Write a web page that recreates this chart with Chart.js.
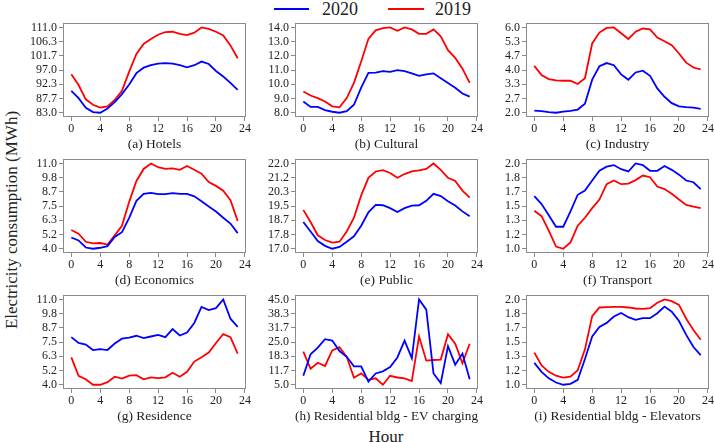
<!DOCTYPE html>
<html lang="en">
<head>
<meta charset="UTF-8">
<title>Electricity consumption by hour</title>
<script src="https://cdn.jsdelivr.net/npm/chart.js"></script>
<style>
  body { margin: 0; background: #fff; }
  #wrap { position: relative; width: 714px; height: 442px; overflow: hidden; font-family: "Liberation Serif", serif; color: #222; }
  #wrap canvas { position: absolute; }
  .key { position: absolute; height: 2px; top: 8px; }
  .keytext { position: absolute; top: -1px; font-size: 18px; line-height: 20px; }
  #ylab { position: absolute; left: 12px; top: 220px; white-space: nowrap; font-size: 17px;
          transform: translate(-50%, -50%) rotate(-90deg); }
  #xlab { position: absolute; left: 386px; top: 437px; font-size: 17px; transform: translate(-50%, -50%); }
</style>
</head>
<body>
<div id="wrap">
  <div class="key" style="left:274px;width:35px;background:#0000ff"></div>
  <div class="keytext" style="left:322px">2020</div>
  <div class="key" style="left:388px;width:36px;background:#ff0000"></div>
  <div class="keytext" style="left:435px">2019</div>
  <div id="ylab">Electricity consumption (MWh)</div>
  <div id="xlab">Hour</div>
</div>
<script>
const hours = [0, 1, 2, 3, 4, 5, 6, 7, 8, 9, 10, 11, 12, 13, 14, 15, 16, 17, 18, 19, 20, 21, 22, 23];
const xTicks = [0, 4, 8, 12, 16, 20, 24];

const panelTitles = ['(a) Hotels', '(b) Cultural', '(c) Industry',
                     '(d) Economics', '(e) Public', '(f) Transport',
                     '(g) Residence', '(h) Residential bldg - EV charging', '(i) Residential bldg - Elevators'];
// first and last tick of each panel (7 even ticks between)
const yLow  = [83, 8, 2, 4, 17, 1, 4, 5, 1];
const yHigh = [111, 14, 6, 11, 22, 2, 11, 45, 2];

const hotels2020 = [90.2, 87.8, 84.6, 83.2, 83.0, 84.4, 86.5, 89.1, 92.3, 96.0, 97.8, 98.6,
                    99.1, 99.3, 99.1, 98.6, 97.9, 98.6, 99.8, 99.0, 96.7, 94.9, 92.8, 90.5];
const hotels2019 = [95.6, 92.1, 87.4, 85.6, 84.7, 85.1, 87.2, 90.2, 96.5, 102.3, 105.6, 107.2,
                    108.6, 109.5, 109.6, 108.9, 108.5, 109.3, 111.0, 110.5, 109.6, 108.4, 105.1, 100.9];
const cultural2020 = [8.79, 8.41, 8.41, 8.18, 8.07, 8.0, 8.11, 8.56, 9.76, 10.8, 10.82, 10.93,
                      10.88, 11.0, 10.93, 10.77, 10.59, 10.7, 10.77, 10.43, 10.1, 9.76, 9.35, 9.13];
const cultural2019 = [9.49, 9.21, 9.03, 8.79, 8.45, 8.38, 9.03, 10.1, 11.6, 13.2, 13.8, 13.95,
                      14.0, 13.77, 14.0, 13.86, 13.55, 13.55, 13.86, 13.37, 12.4, 11.86, 11.1, 10.1];
const industry2020 = [2.10, 2.08, 2.03, 2.0, 2.05, 2.09, 2.15, 2.42, 3.55, 4.18, 4.33, 4.23,
                      3.80, 3.55, 3.89, 3.97, 3.73, 3.14, 2.75, 2.45, 2.30, 2.26, 2.24, 2.18];
const industry2019 = [4.20, 3.77, 3.58, 3.52, 3.50, 3.50, 3.35, 3.62, 5.25, 5.76, 5.98, 6.0,
                      5.73, 5.46, 5.80, 5.95, 5.91, 5.53, 5.35, 5.17, 4.78, 4.35, 4.12, 4.03];
const economics2020 = [4.92, 4.68, 4.10, 4.0, 4.08, 4.21, 4.97, 5.36, 6.54, 7.93, 8.51, 8.59,
                       8.48, 8.48, 8.56, 8.51, 8.51, 8.30, 7.90, 7.46, 7.06, 6.54, 6.07, 5.28];
const economics2019 = [5.54, 5.23, 4.57, 4.44, 4.47, 4.34, 5.10, 5.88, 7.85, 9.56, 10.55, 11.0,
                       10.69, 10.55, 10.6, 10.48, 10.79, 10.48, 10.16, 9.48, 9.16, 8.77, 7.98, 6.28];
const public2020 = [18.57, 18.01, 17.45, 17.17, 17.0, 17.11, 17.41, 17.73, 18.35, 19.13, 19.57, 19.55,
                    19.38, 19.15, 19.38, 19.53, 19.55, 19.81, 20.22, 20.09, 19.79, 19.53, 19.19, 18.91];
const public2019 = [19.28, 18.57, 17.79, 17.51, 17.36, 17.41, 18.01, 18.82, 20.13, 21.16, 21.53, 21.61,
                    21.44, 21.16, 21.38, 21.53, 21.59, 21.68, 22.0, 21.63, 21.16, 20.97, 20.41, 20.0];
const transport2020 = [1.618, 1.524, 1.393, 1.258, 1.258, 1.438, 1.633, 1.682, 1.80, 1.914, 1.963, 1.981,
                       1.933, 1.906, 2.0, 1.981, 1.914, 1.914, 1.97, 1.925, 1.869, 1.80, 1.78, 1.70];
const transport2019 = [1.446, 1.382, 1.213, 1.026, 1.0, 1.075, 1.27, 1.363, 1.476, 1.577, 1.757, 1.80,
                       1.757, 1.764, 1.805, 1.858, 1.839, 1.73, 1.70, 1.644, 1.577, 1.513, 1.494, 1.476];
const residence2020 = [7.91, 7.43, 7.30, 6.85, 6.93, 6.85, 7.38, 7.78, 7.86, 8.02, 7.83, 7.96,
                       8.09, 7.91, 8.57, 8.04, 8.28, 9.07, 10.39, 10.13, 10.29, 11.0, 9.42, 8.75];
const residence2019 = [6.25, 4.74, 4.45, 4.0, 4.0, 4.21, 4.66, 4.50, 4.74, 4.79, 4.45, 4.61,
                       4.55, 4.61, 4.98, 4.66, 5.06, 5.90, 6.25, 6.64, 7.43, 8.15, 7.91, 6.56];
const ev2020 = [9.2, 19.3, 22.4, 26.4, 25.7, 20.8, 18.1, 13.6, 13.6, 6.5, 10.3, 11.3,
                13.3, 17.8, 25.7, 17.4, 45.0, 40.2, 10.3, 5.75, 23.1, 14.4, 19.6, 7.6];
const ev2019 = [20.5, 12.5, 15.3, 13.8, 21.1, 22.6, 18.1, 8.3, 10.3, 7.3, 8.0, 5.0,
                9.2, 8.4, 8.0, 6.7, 27.6, 16.3, 16.6, 16.8, 28.7, 24.2, 15.1, 24.2];
const elevators2020 = [1.257, 1.151, 1.075, 1.026, 1.0, 1.011, 1.057, 1.302, 1.566, 1.679, 1.725, 1.80,
                       1.842, 1.792, 1.762, 1.781, 1.781, 1.838, 1.917, 1.857, 1.747, 1.585, 1.442, 1.347];
const elevators2019 = [1.377, 1.226, 1.151, 1.106, 1.083, 1.094, 1.17, 1.415, 1.804, 1.906, 1.909, 1.913,
                       1.913, 1.906, 1.894, 1.89, 1.898, 1.962, 2.0, 1.981, 1.936, 1.774, 1.642, 1.528];

const series2020 = [hotels2020, cultural2020, industry2020, economics2020, public2020,
                    transport2020, residence2020, ev2020, elevators2020];
const series2019 = [hotels2019, cultural2019, industry2019, economics2019, public2019,
                    transport2019, residence2019, ev2019, elevators2019];

// layout of the plot boxes
const colLeft = [63, 295, 526];
const rowTop = [20, 156, 292];
const boxW = 183, boxH = 97;
const padL = 50, padT = 6, padR = 6, padB = 40;

const frame = {
    id: 'frame',
    afterDraw(chart) {
        const a = chart.chartArea, c = chart.ctx;
        c.save();
        c.strokeStyle = '#8a8a8a';
        c.lineWidth = 1;
        c.strokeRect(Math.round(a.left) + 0.5, Math.round(a.top) + 0.5,
                     Math.round(a.right - a.left) - 1, Math.round(a.bottom - a.top) - 1);
        c.restore();
    }
};

const wrap = document.getElementById('wrap');
const serif = "'Liberation Serif', 'Times New Roman', Times, serif";
Chart.defaults.font.family = serif;
Chart.defaults.color = '#222';
const tickFont = { family: serif, size: 12 };

panelTitles.forEach((title, i) => {
    const col = i % 3, row = Math.floor(i / 3);
    const cv = document.createElement('canvas');
    cv.width = boxW + padL + padR;
    cv.height = boxH + padT + padB;
    cv.style.left = (colLeft[col] - padL) + 'px';
    cv.style.top = (rowTop[row] - padT) + 'px';
    wrap.appendChild(cv);

    const lo = yLow[i], hi = yHigh[i], span = hi - lo;
    const yTicks = [0, 1, 2, 3, 4, 5, 6].map(k => lo + k * span / 6);

    new Chart(cv.getContext('2d'), {
        type: 'line',
        data: {
            labels: hours,
            datasets: [
                { label: '2020', data: hours.map((h, k) => ({ x: h, y: series2020[i][k] })),
                  borderColor: '#0000ff', borderWidth: 1.8, pointRadius: 0, tension: 0 },
                { label: '2019', data: hours.map((h, k) => ({ x: h, y: series2019[i][k] })),
                  borderColor: '#ff0000', borderWidth: 1.8, pointRadius: 0, tension: 0 }
            ]
        },
        options: {
            responsive: false,
            animation: false,
            devicePixelRatio: 1,
            layout: { padding: { left: 0, top: padT, right: padR, bottom: 0 } },
            plugins: { legend: { display: false }, tooltip: { enabled: false } },
            scales: {
                x: {
                    type: 'linear',
                    min: -1.15,
                    max: 24.15,
                    afterBuildTicks: s => { s.ticks = xTicks.map(v => ({ value: v })); },
                    afterFit: s => { s.height = padB; },
                    ticks: { font: tickFont, color: '#222', padding: 1, maxRotation: 0, autoSkip: false },
                    grid: { drawOnChartArea: false, drawTicks: true, tickLength: 4, color: '#8a8a8a' },
                    border: { display: false },
                    title: { display: true, text: title, color: '#222',
                             font: { family: serif, size: 13.5 }, padding: { top: 0, bottom: 4 } }
                },
                y: {
                    min: lo - 0.05 * span,
                    max: hi + 0.05 * span,
                    afterBuildTicks: s => { s.ticks = yTicks.map(v => ({ value: v })); },
                    afterFit: s => { s.width = padL; },
                    ticks: { font: tickFont, color: '#222', padding: 2, autoSkip: false,
                             callback: v => v.toFixed(1) },
                    grid: { drawOnChartArea: false, drawTicks: true, tickLength: 4, color: '#8a8a8a' },
                    border: { display: false }
                }
            }
        },
        plugins: [frame]
    });
});
</script>
</body>
</html>
